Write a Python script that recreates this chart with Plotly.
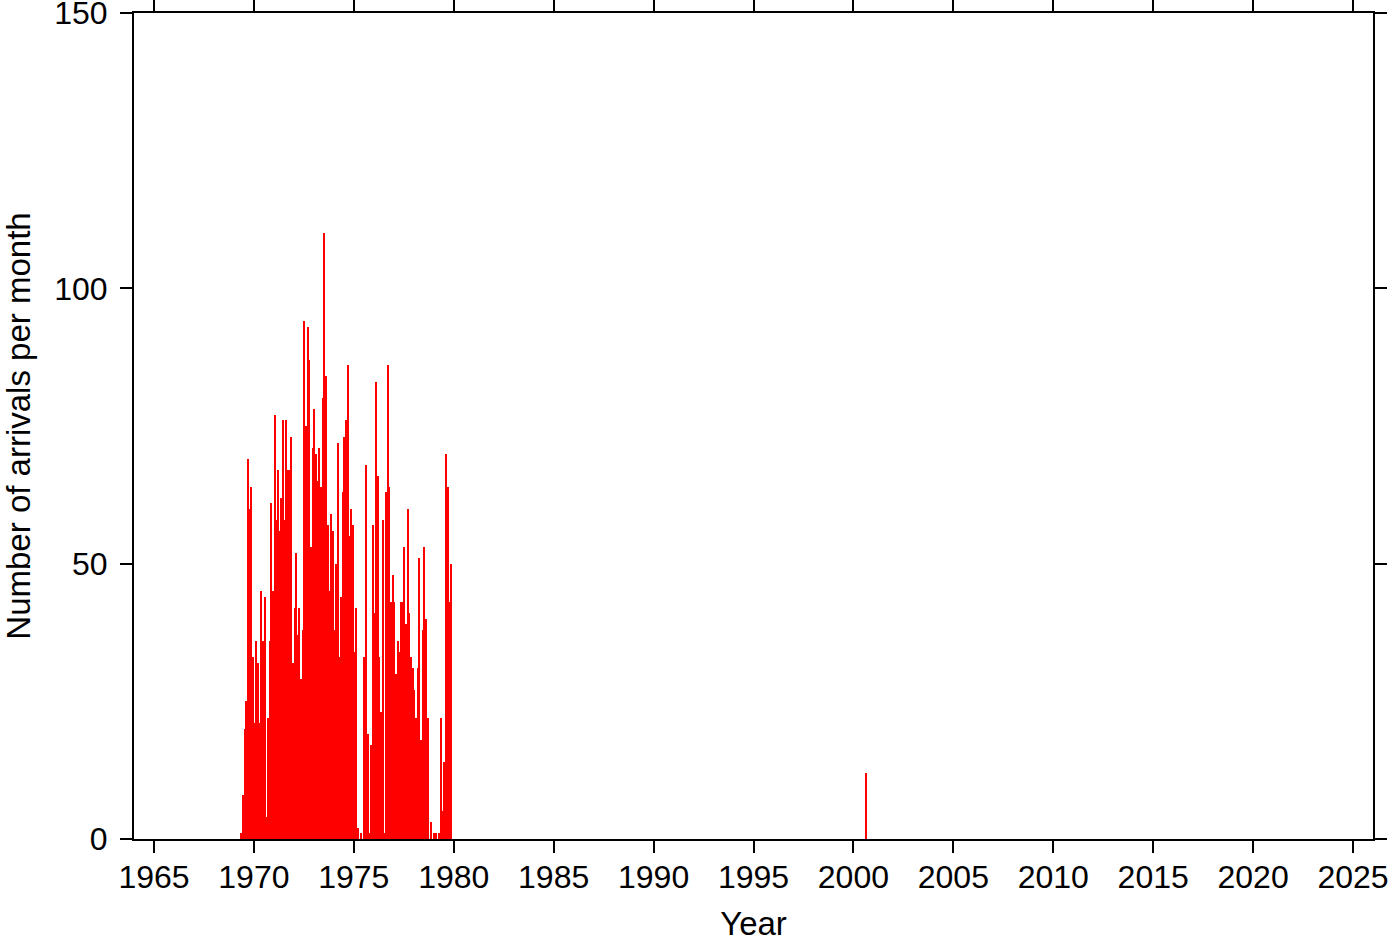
import plotly.graph_objects as go

# Monthly arrivals starting May 1969 (consecutive months)
start_year = 1969
start_month = 5
counts = [1, 8, 20, 25, 69, 60, 64, 33, 21, 36, 32, 21, 45, 36, 44, 4, 22, 36, 61, 45,
          77, 58, 67, 56, 62, 76, 58, 76, 67, 67, 73, 32, 42, 52, 37, 42, 29, 38, 94, 75,
          93, 87, 53, 71, 78, 70, 65, 71, 64, 80, 110, 84, 57, 45, 59, 56, 38, 50, 72, 33,
          44, 63, 73, 76, 86, 55, 60, 57, 34, 42, 2, 0, 1, 0, 33, 68, 19, 1, 17, 57,
          41, 83, 66, 33, 23, 58, 1, 63, 86, 64, 43, 48, 43, 30, 36, 34, 43, 43, 53, 39,
          60, 41, 33, 31, 27, 22, 31, 51, 18, 38, 53, 40, 22, 0, 3, 0, 1, 1, 0, 1,
          22, 5, 14, 70, 64, 43, 50]
# Isolated later month
extra_year = 2000
extra_month = 8
extra_count = 12

tick_years = list(range(1965, 2030, 5))
y_ticks = [0, 50, 100, 150]

def month_center(year, month):
    return year + (month - 1) / 12 + 1 / 24

xs = []
for i in range(len(counts)):
    m = start_month - 1 + i
    xs.append(month_center(start_year + m // 12, m % 12 + 1))
xs.append(month_center(extra_year, extra_month))
ys = counts + [extra_count]

fig = go.Figure()
fig.add_trace(go.Bar(x=xs, y=ys, width=1 / 12 * 0.85,
                     marker=dict(color="#ff0000", line=dict(width=0))))

font_family = "Liberation Sans, Arial, Helvetica, sans-serif"
axis_common = dict(showline=True, linecolor="black", linewidth=2, mirror="allticks",
                   ticks="outside", ticklen=12, tickwidth=1.5, tickcolor="black",
                   showgrid=False, zeroline=False, automargin=False,
                   ticklabeloverflow="allow",
                   tickfont=dict(family=font_family, size=32, color="black"))

fig.update_layout(
    width=1400, height=942,
    margin=dict(l=134, r=27, t=13, b=103),
    paper_bgcolor="white", plot_bgcolor="white",
    showlegend=False, bargap=0,
    font=dict(family=font_family, size=32, color="black"),
    xaxis=dict(range=[1964, 2026], tickmode="array", tickvals=tick_years,
               ticktext=[str(t) for t in tick_years], ticklabelstandoff=-3,
               title=dict(text="Year", font=dict(family=font_family, size=33), standoff=42),
               **axis_common),
    yaxis=dict(range=[0, 150], tickmode="array", tickvals=y_ticks,
               ticktext=[str(t) for t in y_ticks], ticklabelstandoff=6,
               title=dict(text="Number of arrivals per month",
                          font=dict(family=font_family, size=33), standoff=40),
               **axis_common),
)

fig.write_html("out.html",
               config={"displayModeBar": False},
               post_script="document.body.style.margin='0px';"
                           "document.body.style.overflow='hidden';")
